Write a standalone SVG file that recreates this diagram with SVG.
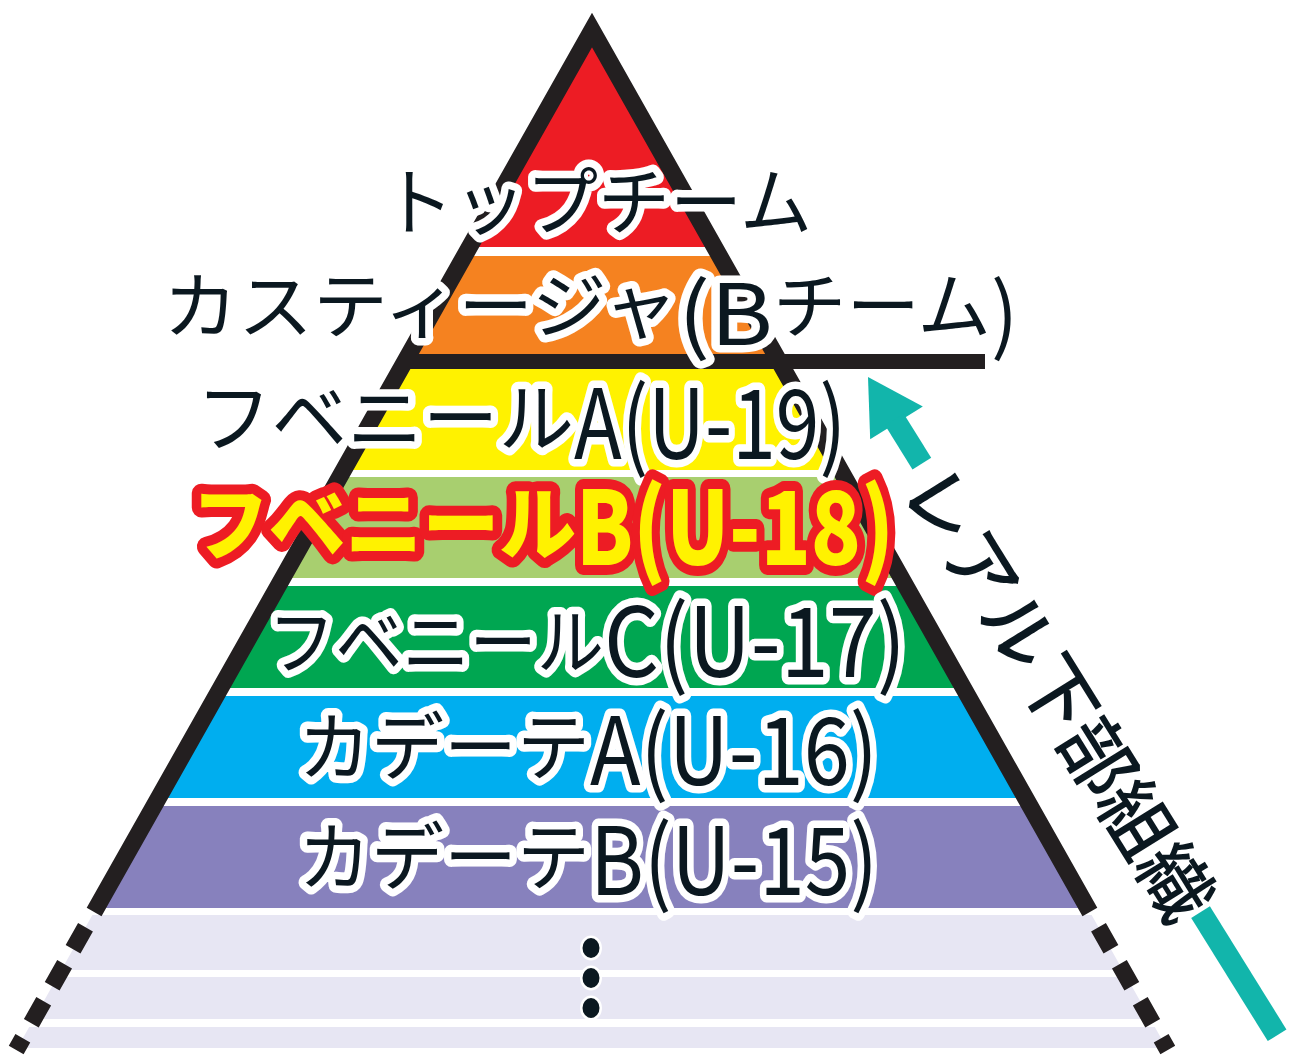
<svg xmlns="http://www.w3.org/2000/svg" width="1300" height="1064" viewBox="0 0 1300 1064">
<defs>
<style>
.lbl{font-family:"Noto Sans CJK JP","Noto Sans",sans-serif;font-weight:400;fill:#0b1820;stroke:#ffffff;stroke-width:15;stroke-linejoin:round;paint-order:stroke}
.hl{font-family:"Noto Sans CJK JP","Noto Sans",sans-serif;font-weight:900;fill:#fff200;stroke:#ed1c24;stroke-width:20;stroke-linejoin:round;paint-order:stroke}
.edge{fill:none;stroke:#231f20;stroke-width:17;stroke-linecap:butt}
.dash{fill:none;stroke:#231f20;stroke-width:17;stroke-dasharray:25.3 17.2}
.teal{fill:#12b5ab}
.dot{fill:#0b1820;stroke:#ffffff;stroke-width:5;paint-order:stroke}
</style>
<clipPath id="pyr"><polygon points="592,30 16.2,1050 1167.8,1050"/></clipPath>
</defs>
<rect width="1300" height="1064" fill="#ffffff"/>
<g id="bands" clip-path="url(#pyr)">
<rect x="0" y="0" width="1300" height="247" fill="#ed1c24"/>
<rect x="0" y="256" width="1300" height="99" fill="#f58220"/>
<rect x="0" y="369" width="1300" height="101" fill="#fff200"/>
<rect x="0" y="477" width="1300" height="101" fill="#a8cf6f"/>
<rect x="0" y="586" width="1300" height="102" fill="#00a651"/>
<rect x="0" y="696" width="1300" height="102" fill="#00aeef"/>
<rect x="0" y="806" width="1300" height="102" fill="#8781bd"/>
<rect x="0" y="915" width="1300" height="55" fill="#e7e6f3"/>
<rect x="0" y="977" width="1300" height="42" fill="#e7e6f3"/>
<rect x="0" y="1027" width="1300" height="21" fill="#e7e6f3"/>
</g>
<g id="outline">
<path class="edge" d="M94.1,912 L592,30 L1089.9,912" stroke-miterlimit="10"/>
<path class="dash" d="M85.5,927.2 L16.2,1050"/>
<path class="dash" d="M1098.5,927.2 L1167.8,1050"/>
<line x1="400" y1="361.5" x2="985" y2="361.5" stroke="#231f20" stroke-width="15"/>
</g>
<g id="connectors">
<g id="arrow" transform="translate(868,377) rotate(58.14)">
<polygon class="teal" points="0,0 -31,54 31,54" transform="rotate(-90)"/>
<rect class="teal" x="50" y="-11" width="52" height="22"/>
<rect class="teal" x="630" y="-11" width="145" height="22"/>
</g>
</g>
<g id="node-top"><text class="lbl" x="382" y="229" font-size="74" textLength="430" lengthAdjust="spacingAndGlyphs">トップチーム</text></g>
<g id="node-castilla"><text class="lbl"><tspan x="163" y="332" font-size="72" textLength="515" lengthAdjust="spacingAndGlyphs">カスティージャ</tspan><tspan x="678" y="345" font-size="84" textLength="95" lengthAdjust="spacingAndGlyphs">(B</tspan><tspan x="773" y="332" font-size="72" textLength="218" lengthAdjust="spacingAndGlyphs">チーム</tspan><tspan x="991" y="345" font-size="84" textLength="27" lengthAdjust="spacingAndGlyphs">)</tspan></text></g>
<g id="node-juvenilA"><text class="lbl"><tspan x="196" y="446" font-size="76" textLength="378" lengthAdjust="spacingAndGlyphs">フベニール</tspan><tspan x="574" y="459" font-size="97" textLength="272" lengthAdjust="spacingAndGlyphs">A(U-19)</tspan></text></g>
<g id="node-juvenilB"><text class="hl"><tspan x="192" y="553" font-size="80" textLength="384" lengthAdjust="spacingAndGlyphs">フベニール</tspan><tspan x="576" y="565" font-size="102" textLength="318" lengthAdjust="spacingAndGlyphs">B(U-18)</tspan></text></g>
<g id="node-juvenilC"><text class="lbl"><tspan x="268" y="668" font-size="72" textLength="336" lengthAdjust="spacingAndGlyphs">フベニール</tspan><tspan x="604" y="677" font-size="97" textLength="302" lengthAdjust="spacingAndGlyphs">C(U-17)</tspan></text></g>
<g id="node-cadeteA"><text class="lbl"><tspan x="298" y="774" font-size="74" textLength="292" lengthAdjust="spacingAndGlyphs">カデーテ</tspan><tspan x="590" y="785" font-size="94" textLength="288" lengthAdjust="spacingAndGlyphs">A(U-16)</tspan></text></g>
<g id="node-cadeteB"><text class="lbl"><tspan x="298" y="884" font-size="74" textLength="292" lengthAdjust="spacingAndGlyphs">カデーテ</tspan><tspan x="590" y="895" font-size="94" textLength="288" lengthAdjust="spacingAndGlyphs">B(U-15)</tspan></text></g>
<g id="node-more">
<ellipse class="dot" cx="591" cy="948" rx="8.5" ry="10"/>
<ellipse class="dot" cx="591" cy="978" rx="8.5" ry="10"/>
<ellipse class="dot" cx="591" cy="1008" rx="8.5" ry="10"/>
</g>
<g id="label-real"><text x="0" y="0" transform="translate(1063.5,691) rotate(58.14)" font-family="'Noto Sans CJK JP','Noto Sans',sans-serif" font-weight="500" font-size="74" fill="#0b1820" text-anchor="middle" dominant-baseline="central">レアル下部組織</text></g>
</svg>
